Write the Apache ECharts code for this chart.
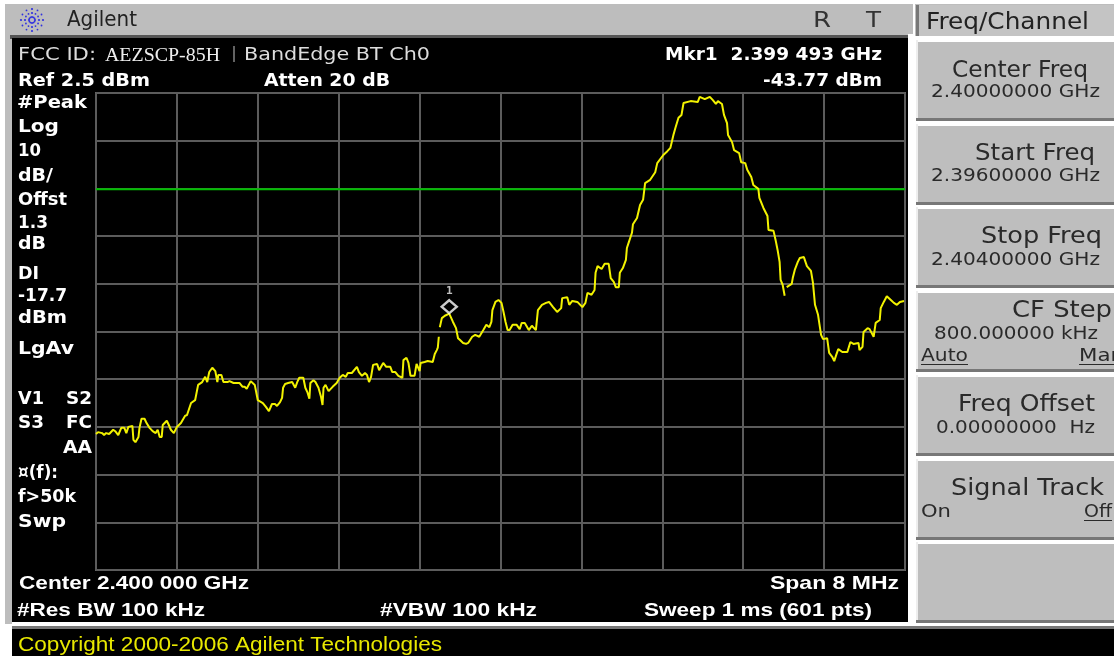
<!DOCTYPE html>
<html><head><meta charset="utf-8">
<style>html,body{margin:0;padding:0;background:#fff;overflow:hidden}#c{width:1114px;height:656px}</style>
<script src="https://cdn.jsdelivr.net/npm/echarts@6/dist/echarts.min.js"></script>
</head><body><div id="c"></div>
<script>
const refLevelDbm = 2.5;
const displayLineDbm = -17.7;
const markerMHz = -0.507, markerDbm = -43.77;
// offset from the 2.400 GHz centre, MHz (null level = gap in the trace)
const freqMHz = [-4.00,-3.98,-3.94,-3.92,-3.90,-3.87,-3.83,-3.81,-3.78,-3.75,-3.72,-3.70,-3.68,-3.64,-3.63,-3.61,-3.58,-3.57,-3.55,-3.52,-3.50,-3.47,-3.44,-3.41,-3.39,-3.37,-3.35,-3.34,-3.30,-3.28,-3.26,-3.23,-3.20,-3.16,-3.12,-3.10,-3.06,-3.02,-2.99,-2.95,-2.92,-2.90,-2.88,-2.85,-2.82,-2.80,-2.79,-2.76,-2.74,-2.70,-2.68,-2.64,-2.61,-2.58,-2.55,-2.53,-2.51,-2.47,-2.43,-2.40,-2.35,-2.32,-2.29,
-2.28,-2.26,-2.23,-2.21,-2.18,-2.16,-2.15,-2.13,-2.10,-2.06,-2.05,-2.03,-2.01,-1.99,-1.95,-1.93,-1.91,-1.89,-1.88,-1.85,-1.83,-1.80,-1.775,-1.76,-1.75,-1.73,-1.70,-1.66,-1.62,-1.59,-1.56,-1.53,-1.51,-1.47,-1.46,-1.42,-1.40,-1.37,-1.34,-1.32,-1.30,-1.28,-1.26,-1.22,-1.20,-1.16,-1.13,-1.09,-1.07,-1.04,-1.01,-0.97,-0.96,-0.93,-0.91,-0.89,-0.85,-0.83,-0.80,-0.79,-0.75,-0.72,-0.67,-0.65,-0.63,-0.62,-0.61,-0.605,
-0.60,-0.58,-0.55,-0.507,-0.49,-0.47,-0.44,-0.42,-0.40,-0.37,-0.34,-0.32,-0.28,-0.25,-0.21,-0.17,-0.14,-0.11,-0.09,-0.08,-0.05,-0.02,0.01,0.03,0.05,0.07,0.09,0.12,0.16,0.19,0.21,0.24,0.28,0.31,0.35,0.37,0.41,0.45,0.48,0.52,0.56,0.60,0.61,0.66,0.68,0.71,0.76,0.81,0.84,0.86,0.90,0.93,0.94,0.96,1.00,1.03,1.07,1.09,1.12,1.14,1.17,1.18,1.21,1.24,1.25,1.27,1.30,1.31,1.35,1.38,1.41,1.43,1.48,1.53,1.55,1.61,1.65,1.68,1.71,1.73,1.76,1.79,1.81,1.88,1.95,1.97,2.02,2.07,2.10,2.13,2.15,2.19,2.21,2.24,2.25,2.29,2.31,2.36,2.38,2.42,2.44,2.48,2.50,2.55,2.56,2.60,2.64,2.65,2.70,2.72,2.74,2.76,2.77,2.79,2.81,2.82,
2.83,2.88,2.89,2.91,2.94,2.96,3.00,3.03,3.07,3.09,3.11,3.14,3.17,3.19,3.23,3.25,3.28,3.30,3.32,3.34,3.38,3.43,3.46,3.49,3.54,3.55,3.58,3.59,3.63,3.65,3.69,3.71,3.75,3.76,3.79,3.82,3.86,3.89,3.92,3.95,3.99];
const levelDbm = [-69.0,-68.6,-68.8,-69.2,-68.8,-69.0,-68.1,-68.4,-69.2,-67.7,-67.7,-68.8,-67.5,-67.3,-70.2,-70.7,-69.6,-67.7,-65.8,-65.8,-66.7,-67.7,-68.4,-68.8,-68.1,-69.6,-69.6,-67.1,-66.2,-67.1,-68.1,-68.8,-67.5,-66.7,-65.2,-65.0,-62.5,-61.9,-58.7,-58.1,-57.0,-58.1,-56.0,-55.1,-55.8,-58.1,-56.6,-56.6,-58.1,-58.1,-57.9,-58.3,-58.3,-58.3,-59.1,-59.1,-59.5,-57.9,-58.7,-61.9,-62.5,-63.3,-64.2,
-63.9,-62.7,-62.7,-63.1,-62.3,-61.4,-59.3,-58.5,-58.3,-58.1,-58.1,-59.3,-58.1,-57.2,-57.2,-59.3,-60.2,-61.6,-58.3,-57.7,-58.1,-59.3,-61.2,-62.9,-59.3,-58.7,-60.0,-59.1,-58.3,-57.2,-56.6,-57.0,-56.2,-56.2,-56.0,-54.9,-56.0,-56.8,-56.2,-56.6,-58.1,-57.0,-54.5,-54.3,-55.6,-54.1,-54.9,-54.9,-56.0,-56.0,-56.8,-57.2,-53.5,-53.0,-54.1,-56.8,-56.8,-54.3,-55.8,-54.1,-53.9,-53.7,-53.9,-52.2,-51.4,-50.9,-48.6,null,
-46.6,-44.7,-44.2,-43.77,-43.6,-45.5,-46.8,-48.9,-49.3,-49.9,-50.1,-49.9,-48.6,-48.2,-48.6,-47.2,-46.1,-46.6,-45.5,-43.0,-41.3,-40.9,-41.5,-43.4,-45.5,-47.2,-47.2,-46.1,-46.1,-47.0,-45.7,-45.7,-47.2,-46.3,-47.2,-43.0,-41.9,-41.5,-41.3,-42.4,-43.4,-42.6,-40.5,-40.3,-41.9,-41.1,-41.3,-42.4,-41.5,-39.4,-39.8,-38.8,-35.2,-33.8,-34.4,-33.3,-33.3,-36.3,-37.1,-38.2,-38.2,-35.2,-34.2,-32.5,-30.0,-28.7,-26.8,-25.0,-23.7,-21.0,-19.9,-16.4,-15.7,-14.1,-12.2,-10.5,-9.7,-9.0,-6.3,-4.8,-2.7,-2.1,0.4,0.8,0.6,1.7,1.2,1.7,1.0,0.2,0.8,0.2,-2.1,-3.8,-6.3,-7.8,-9.5,-10.1,-12.0,-12.2,-13.6,-15.1,-16.8,-17.6,-19.5,-21.6,-23.3,-26.2,-26.4,-28.3,-30.4,-32.9,-36.7,-37.7,-40.0,null,
-38.2,-37.5,-36.3,-34.6,-32.9,-32.1,-31.9,-33.8,-34.8,-37.3,-41.9,-44.0,-48.2,-49.1,-48.9,-52.0,-52.8,-53.7,-52.4,-51.2,-51.8,-51.8,-49.7,-50.1,-49.9,-51.4,-50.7,-47.6,-46.8,-47.0,-48.6,-45.7,-45.1,-42.6,-41.3,-40.1,-40.9,-41.5,-41.9,-41.3,-41.1];

const DV = '"DejaVu Sans"', LS = '"Liberation Sans"', LSerif = '"Liberation Serif"';
const mc = document.createElement('canvas').getContext('2d');
const gfx = [];
function rect(x,y,w,h,fill,z){gfx.push({type:'rect',shape:{x,y,width:w,height:h},style:{fill},z:z||0,silent:true});}
// text fitted to the span x0..x1, centred on yc
function txt(s,x0,x1,yc,size,fam,weight,fill){
  const font=(weight?weight+' ':'')+size+'px '+fam;
  mc.font=font;
  const w=mc.measureText(s).width;
  gfx.push({type:'text',x:x0,y:yc+3,scaleX:(x1-x0)/w,z:20,silent:true,
    style:{text:s,font,fill:fill||'#fff',textAlign:'left',textVerticalAlign:'middle'}});
}
// page chrome
rect(5,4,908,620,'#bdbdbd',0);
rect(10,35,903,4,'#555',1);
rect(12,38,896,584,'#000',1);
rect(908,34,6,592,'#fff',1);
rect(12,622,902,4,'#fff',1);
rect(12,626,1102,3,'#777',1);
rect(12,629,1102,27,'#000',1);
rect(915,4,199,32,'#bdbdbd',0);
rect(916,5,198,31,'#c4c4c4',1);
rect(916,5,3,31,'#777',2);
const keyTops=[40,124,207,291,375,459,542];
keyTops.forEach(t=>{
  rect(916,t,198,80,'#bebebe',1);
  rect(916,t,198,2,'#fff',2);
  rect(916,t,2,78,'#eee',2);
  rect(916,t+78,198,3,'#777',2);
});
// logo
const lc=[32,20];
for(let a=0;a<12;a++){for(const r of [3,7,11]){
  const an=a*Math.PI/6;
  gfx.push({type:'circle',shape:{cx:lc[0]+r*Math.cos(an),cy:lc[1]+r*Math.sin(an),r:a%3===0?1.1:0.9},style:{fill:'#3030e0'},z:5,silent:true});
}}
// header
txt('Agilent',67,137,18,21,DV,'', '#222');
txt('R',813,831,18,22,DV,'','#333');
txt('T',866,881,18,22,DV,'','#333');
txt('Freq/Channel',926,1089,20,23,DV,'','#222');
// annotation rows
txt('FCC ID:',18,96,52,18,DV,'','#ddd');
txt('AEZSCP-85H',105,220,53,18,LSerif,'','#eee');
txt('|',232,236,51,16,DV,'','#bbb');
txt('BandEdge BT Ch0',244,430,52,18,DV,'','#ddd');
txt('Mkr1  2.399 493 GHz',665,882,52,18,DV,'bold');
txt('Ref 2.5 dBm',18,150,78,18,DV,'bold');
txt('Atten 20 dB',264,390,78,18,DV,'bold');
txt('-43.77 dBm',763,882,78,18,DV,'bold');
[['#Peak',17,87,100],['Log',18,59,124],['10',18,41,148],['dB/',18,53,173],['Offst',18,67,197],['1.3',18,48,220],['dB',18,46,241],['DI',18,39,271],['-17.7',18,67,293],['dBm',18,67,315],['LgAv',18,74,346],['V1',18,44,396],['S2',66,92,396],['S3',18,44,420],['FC',66,92,420],['AA',63,92,445],['¤(f):',18,58,470],['f>50k',18,76,494],['Swp',18,66,519]]
  .forEach(r=>txt(r[0],r[1],r[2],r[3],18,DV,'bold'));
txt('Center 2.400 000 GHz',19,249,581,19,LS,'bold');
txt('Span 8 MHz',770,899,581,19,LS,'bold');
txt('#Res BW 100 kHz',17,205,608,19,LS,'bold');
txt('#VBW 100 kHz',380,537,608,19,LS,'bold');
txt('Sweep 1 ms (601 pts)',644,872,608,19,LS,'bold');
txt('Copyright 2000-2006 Agilent Technologies',18,442,642,20,LS,'','#e8e800');
// soft keys
const K='#2a2a2a';
txt('Center Freq',952,1088,68,23,DV,'',K);
txt('2.40000000 GHz',931,1100,89,18,DV,'',K);
txt('Start Freq',975,1095,151,23,DV,'',K);
txt('2.39600000 GHz',931,1100,173,18,DV,'',K);
txt('Stop Freq',981,1102,234,23,DV,'',K);
txt('2.40400000 GHz',931,1100,257,18,DV,'',K);
txt('CF Step',1012,1112,308,23,DV,'',K);
txt('800.000000 kHz',934,1098,331,18,DV,'',K);
txt('Auto',921,968,354,17,DV,'',K); rect(921,364,47,1,K,20);
txt('Man',1079,1124,354,17,DV,'',K); rect(1079,364,35,1,K,20);
txt('Freq Offset',958,1095,402,23,DV,'',K);
txt('0.00000000  Hz',936,1095,425,18,DV,'',K);
txt('Signal Track',951,1104,486,23,DV,'',K);
txt('On',921,951,510,17,DV,'',K);
txt('Off',1084,1112,510,17,DV,'',K); rect(1084,520,28,1,K,20);

// axis is dB relative to the reference level, 10 dB per division
const rel = v => v===null ? null : +(v-refLevelDbm).toFixed(2);
const trace = freqMHz.map((f,i)=>[f,rel(levelDbm[i])]);
const chart = echarts.init(document.getElementById('c'),null,{renderer:'canvas'});
chart.setOption({
  animation:false,
  backgroundColor:'transparent',
  graphic:{elements:gfx},
  grid:{left:96,right:209,top:93,bottom:86,show:true,borderColor:'#666',borderWidth:2,z:3},
  xAxis:{type:'value',min:-4,max:4,interval:0.8,axisLabel:{show:false},axisTick:{show:false},axisLine:{show:false},
    splitLine:{show:true,lineStyle:{color:'#5c5c5c',width:2}},z:3},
  yAxis:{type:'value',min:-100,max:0,interval:10,axisLabel:{show:false},axisTick:{show:false},axisLine:{show:false},
    splitLine:{show:true,lineStyle:{color:'#5c5c5c',width:2}},z:3},
  series:[
    {type:'line',name:'Display line',data:[[-4,rel(displayLineDbm)],[4,rel(displayLineDbm)]],symbol:'none',silent:true,z:5,
      lineStyle:{color:'#00c000',width:2}},
    {type:'line',name:'Trace',data:trace,symbol:'none',silent:true,z:6,connectNulls:false,
      lineStyle:{color:'#f2f200',width:2}},
    {type:'scatter',name:'Marker 1',data:[[markerMHz,rel(markerDbm)]],symbol:'diamond',symbolSize:[15,13],symbolOffset:[0,-7],silent:true,z:7,
      itemStyle:{color:'#000',borderColor:'#fff',borderWidth:2.5},
      label:{show:true,position:'top',distance:2,formatter:'1',color:'#eee',fontSize:11,fontWeight:'bold',fontFamily:'"DejaVu Sans Mono"'}}
  ]
});
</script></body></html>
